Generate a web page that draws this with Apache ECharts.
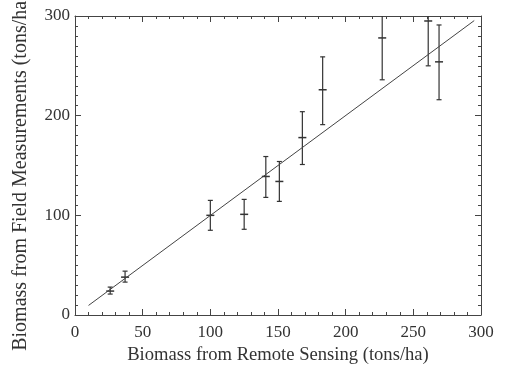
<!DOCTYPE html>
<html>
<head>
<meta charset="utf-8">
<script src="https://cdn.jsdelivr.net/npm/echarts@6/dist/echarts.min.js"></script>
<style>html,body{margin:0;padding:0;background:#fff}#c{width:506px;height:371px}</style>
</head>
<body>
<div id="c"></div>
<script>
var xVals = [26, 37, 100, 125, 141, 151, 168, 183, 227, 261, 269];
var yVals = [24, 38, 100, 101, 139, 134, 178, 226, 278, 295, 254];
var yLow  = [21, 33, 85, 86, 118, 114, 151, 191, 236, 250, 216];
var yHigh = [28, 44, 115, 116, 159, 154, 204, 259, 320, 340, 291];
var fitX = [10, 295];
var fitY = [9.6, 295.4];

var font = 'Liberation Serif';
var ink = '#333';
var lineCol = '#444';

var errData = xVals.map(function (x, i) { return [x, yVals[i], yLow[i], yHigh[i]]; });
var fitData = fitX.map(function (x, i) { return [x, fitY[i]]; });

function baseAxis(extra) {
  var a = {
    type: 'value', min: 0, max: 300,
    axisLine: { show: true, onZero: false, lineStyle: { color: lineCol, width: 1 } },
    axisTick: { show: true, inside: true, length: 6, lineStyle: { color: lineCol } },
    minorTick: { show: true, length: 3, lineStyle: { color: lineCol } },
    splitLine: { show: false },
    axisLabel: { show: true, color: ink, fontFamily: font, fontSize: 17 }
  };
  for (var k in extra) a[k] = extra[k];
  return a;
}

var chart = echarts.init(document.getElementById('c'), null, { renderer: 'canvas' });
chart.setOption({
  animation: false,
  backgroundColor: '#fff',
  grid: { left: 75, right: 25, top: 16, bottom: 56, containLabel: false, outerBoundsMode: 'none' },
  xAxis: [
    baseAxis({ position: 'bottom', interval: 50,
      minorTick: { show: true, splitNumber: 5, length: 3, lineStyle: { color: lineCol } },
      axisLabel: { show: true, color: ink, fontFamily: font, fontSize: 17, margin: 9 },
      name: 'Biomass from Remote Sensing (tons/ha)', nameLocation: 'middle', nameGap: 29,
      nameTextStyle: { color: ink, fontFamily: font, fontSize: 18.6 } }),
    baseAxis({ position: 'top', interval: 50,
      minorTick: { show: true, splitNumber: 5, length: 3, lineStyle: { color: lineCol } },
      axisLabel: { show: false } })
  ],
  yAxis: [
    baseAxis({ position: 'left', interval: 100,
      minorTick: { show: true, splitNumber: 10, length: 3, lineStyle: { color: lineCol } },
      axisLabel: { show: true, color: ink, fontFamily: font, fontSize: 17, margin: 5 },
      name: 'Biomass from Field Measurements (tons/ha)', nameLocation: 'middle', nameGap: 44,
      nameTextStyle: { color: ink, fontFamily: font, fontSize: 20, padding: [0, 14, 0, 0] } }),
    baseAxis({ position: 'right', interval: 100,
      minorTick: { show: true, splitNumber: 10, length: 3, lineStyle: { color: lineCol } },
      axisLabel: { show: false } })
  ],
  series: [
    {
      type: 'line', data: fitData, showSymbol: false, symbol: 'none',
      lineStyle: { color: lineCol, width: 1 }, silent: true
    },
    {
      type: 'custom', clip: true, data: errData,
      renderItem: function (params, api) {
        var c = api.coord([api.value(0), api.value(1)]);
        var lo = api.coord([api.value(0), api.value(2)]);
        var hi = api.coord([api.value(0), api.value(3)]);
        var cap = 2.5, mk = 4;
        var st = { stroke: '#333', lineWidth: 1.2 };
        return {
          type: 'group',
          children: [
            { type: 'line', shape: { x1: c[0], y1: lo[1], x2: c[0], y2: hi[1] }, style: st },
            { type: 'line', shape: { x1: c[0] - cap, y1: lo[1], x2: c[0] + cap, y2: lo[1] }, style: st },
            { type: 'line', shape: { x1: c[0] - cap, y1: hi[1], x2: c[0] + cap, y2: hi[1] }, style: st },
            { type: 'line', shape: { x1: c[0] - mk, y1: c[1], x2: c[0] + mk, y2: c[1] }, style: { stroke: '#333', lineWidth: 1.5 } }
          ]
        };
      }
    }
  ]
});
</script>
</body>
</html>
